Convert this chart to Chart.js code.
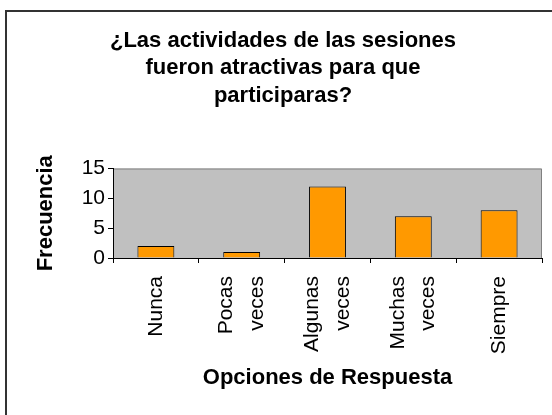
<!DOCTYPE html>
<html>
<head>
<meta charset="utf-8">
<script src="https://cdn.jsdelivr.net/npm/chart.js@4.4.1/dist/chart.umd.min.js"></script>
<style>
  html, body { margin: 0; padding: 0; background: #fff; }
  #wrap { width: 552px; height: 415px; }
</style>
</head>
<body>
<div id="wrap"><canvas id="grafico" width="552" height="415"></canvas></div>
<script>
// datos
var opciones = ["Nunca", ["Pocas", "veces"], ["Algunas", "veces"], ["Muchas", "veces"], "Siempre"];
var frecuencia = [2, 1, 12, 7, 8];
var ticksY = [0, 5, 10, 15];
var tituloLineas = ["¿Las actividades de las sesiones", "fueron atractivas para que", "participaras?"];

var fuente = "'Liberation Sans', Arial, sans-serif";

// marco exterior, fondo gris del area y borde superior/derecho
var fondoPlot = {
    id: "fondoPlot",
    beforeDraw: function (chart) {
        var c = chart.ctx, a = chart.chartArea;
        c.save();
        c.fillStyle = "#fff";
        c.fillRect(0, 0, chart.width, chart.height);
        c.strokeStyle = "#333";
        c.lineWidth = 2;
        c.beginPath();
        c.moveTo(6, chart.height + 5);
        c.lineTo(6, 11);
        c.lineTo(chart.width + 5, 11);
        c.stroke();
        c.fillStyle = "#c0c0c0";
        c.fillRect(a.left, a.top, a.right - a.left, a.bottom - a.top);
        c.strokeStyle = "#808080";
        c.lineWidth = 1;
        c.beginPath();
        c.moveTo(a.left, a.top + 0.5);
        c.lineTo(a.right - 0.5, a.top + 0.5);
        c.lineTo(a.right - 0.5, a.bottom);
        c.stroke();
        c.restore();

        // centrar las etiquetas de dos lineas sobre su categoria
        var items = chart.scales.x.getLabelItems();
        items.forEach(function (it) {
            if (Array.isArray(it.label) && !it._centrado) {
                var lh = it.font.lineHeight;
                it.options.translation[0] -= lh * (it.label.length - 1) / 2;
                it._centrado = true;
            }
        });
    }
};

new Chart(document.getElementById("grafico"), {
    type: "bar",
    data: {
        labels: opciones,
        datasets: [{
            label: "Frecuencia",
            data: frecuencia,
            backgroundColor: "#ff9900",
            borderColor: "#000",
            borderWidth: 1,
            barPercentage: 0.43,
            categoryPercentage: 1
        }]
    },
    options: {
        responsive: false,
        animation: false,
        layout: { padding: { top: 10, left: 24, right: 10, bottom: 10 } },
        plugins: {
            legend: { display: false },
            tooltip: { enabled: false },
            title: {
                display: true,
                text: tituloLineas,
                color: "#000",
                font: { family: fuente, size: 22, weight: "bold", lineHeight: 1.25 },
                padding: { top: 17, bottom: 59 }
            }
        },
        scales: {
            x: {
                afterFit: function (s) { s.height = 147; },
                border: { display: true, color: "#000", width: 1 },
                grid: { display: true, drawOnChartArea: false, color: "#000", tickLength: 5, offset: true },
                ticks: {
                    color: "#000",
                    maxRotation: 90,
                    minRotation: 90,
                    padding: 13,
                    autoSkip: false,
                    font: { family: fuente, size: 21, lineHeight: 1.45 }
                },
                title: {
                    display: true,
                    text: "Opciones de Respuesta",
                    color: "#000",
                    font: { family: fuente, size: 22, weight: "bold" },
                    padding: { top: 0, bottom: 14 }
                }
            },
            y: {
                min: 0,
                max: 15,
                afterFit: function (s) { s.width = 89; },
                afterBuildTicks: function (s) { s.ticks = ticksY.map(function (v) { return { value: v }; }); },
                border: { display: true, color: "#000", width: 1 },
                grid: { display: true, drawOnChartArea: false, color: "#000", tickLength: 5 },
                ticks: {
                    color: "#000",
                    padding: 3,
                    font: { family: fuente, size: 21 }
                },
                title: {
                    display: true,
                    text: "Frecuencia",
                    color: "#000",
                    font: { family: fuente, size: 22, weight: "bold" },
                    padding: { top: 9, bottom: 0 }
                }
            }
        }
    },
    plugins: [fondoPlot]
});
</script>
</body>
</html>
